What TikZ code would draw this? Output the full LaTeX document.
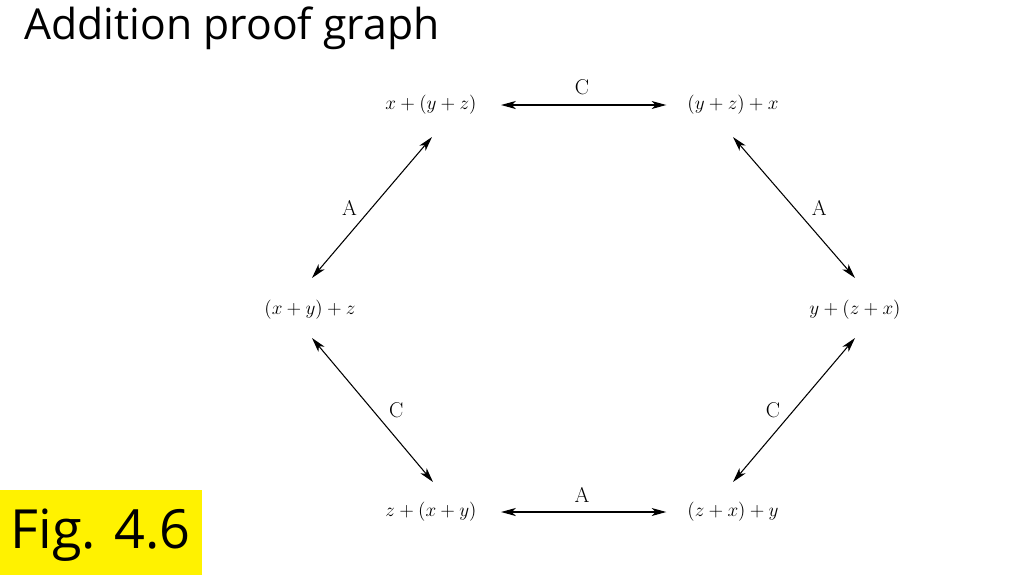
\documentclass[tikz,border=0pt]{standalone}
\usepackage{amsmath}
\usepackage{fontspec}
\newfontfamily\slidefont{Open Sans}
\usepackage{tikz}
\usetikzlibrary{positioning, arrows.meta}
\tikzset{term node/.style={inner sep=2pt, font=\fontsize{15}{18}\selectfont},
	rule node/.style={inner sep=3pt, font=\fontsize{16}{19}\selectfont},}

\begin{document}
\begin{tikzpicture}[x=0.75pt, y=-0.75pt, {Stealth[length=11pt, width=6pt, inset=3pt]}-{Stealth[length=11pt, width=6pt, inset=3pt]}, line width=0.8pt]
			\useasboundingbox (0,0) rectangle (1024,575);
			% Slide
			\node[anchor=base west, inner sep=0pt, font=\slidefont\fontsize{32}{38}\selectfont] (title) at (24,39) {Addition proof graph};
			\fill[yellow] (0,490) rectangle (202,575);
			\node[anchor=base west, inner sep=0pt, font=\slidefont\fontsize{40.5}{48}\selectfont] (fig) at (10,548) {Fig. 4.6};
			% Terms
			\node[term node] (xYZ) at (431,105) {$x+(y+z)$};
			\node[term node] (YZx) at (733,105) {$(y+z)+x$};
			\node[term node] (XYz) at (310,310) {$(x+y)+z$};
			\node[term node] (yZX) at (855,310) {$y+(z+x)$};
			\node[term node] (zXY) at (431,512) {$z+(x+y)$};
			\node[term node] (ZXy) at (733,512) {$(z+x)+y$};
			% Paths
			\path[shorten <=16pt, shorten >=13.5pt]
			(xYZ) edge node [rule node, above=4pt] {C} (YZx)
			(zXY) edge node [rule node, above=4pt] {A} (ZXy);
			\path
			([shift={(1,32)}]xYZ.center) edge node [rule node, left=8pt] {A} ([shift={(2,-32)}]XYz.center)
			([shift={(0,32)}]YZx.center) edge node [rule node, right=10pt] {A} ([shift={(0,-32)}]yZX.center)
			([shift={(2,28)}]XYz.center) edge node [rule node, right=9pt] {C} ([shift={(2,-30)}]zXY.center)
			([shift={(0,28)}]yZX.center) edge node [rule node, left=7pt] {C} ([shift={(0,-30)}]ZXy.center);
		\end{tikzpicture}
\end{document}
